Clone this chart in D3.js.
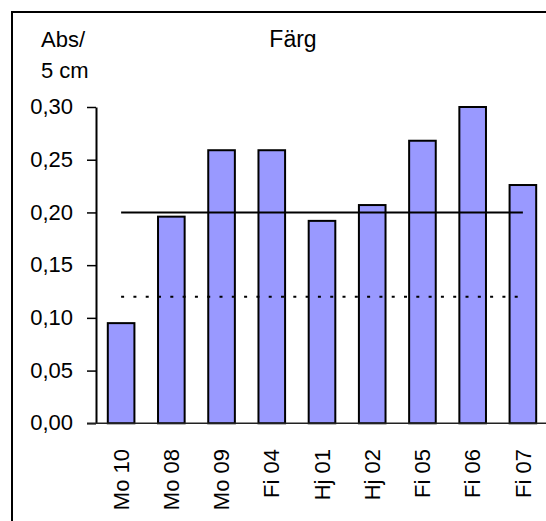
<!DOCTYPE html>
<html>
<head>
<meta charset="utf-8">
<script src="https://cdn.jsdelivr.net/npm/d3@7"></script>
<style>
  body { margin: 0; background: #fff; }
  text { font-family: Arial, "Liberation Sans", sans-serif; fill: #000; }
</style>
</head>
<body>
<svg width="546" height="521"></svg>
<script>
// data
const categories = ["Mo 10", "Mo 08", "Mo 09", "Fi 04", "Hj 01", "Hj 02", "Fi 05", "Fi 06", "Fi 07"];
const values = [0.095, 0.196, 0.259, 0.259, 0.192, 0.207, 0.268, 0.300, 0.226];
const solidLevel = 0.20;
const dashedLevel = 0.12;
const yTicks = [0, 0.05, 0.10, 0.15, 0.20, 0.25, 0.30];

const svg = d3.select("svg");

// outer frame (cut off at right and bottom like the original)
svg.append("rect")
  .attr("x", 12).attr("y", 12)
  .attr("width", 560).attr("height", 540)
  .attr("fill", "none").attr("stroke", "#000").attr("stroke-width", 2);

const x = d3.scaleBand()
  .domain(categories)
  .range([96, 548])
  .paddingInner(0.47)
  .paddingOuter(0.235);

const y = d3.scaleLinear()
  .domain([0, 0.30])
  .range([423.3, 107]);

// swedish decimal comma
const sv = d3.formatLocale({ decimal: ",", thousands: " ", grouping: [3], currency: ["", " kr"] });
const fmt = sv.format(".2f");

// y axis
const yAxis = svg.append("g")
  .attr("transform", "translate(96,0)")
  .call(d3.axisLeft(y).tickValues(yTicks).tickFormat(fmt).tickSize(9).tickSizeOuter(0).tickPadding(14));
yAxis.select(".domain").attr("stroke", "#000").attr("stroke-width", 2);
yAxis.selectAll(".tick line").attr("stroke", "#000").attr("stroke-width", 1.5);
yAxis.selectAll(".tick text")
  .attr("font-size", 22)
  .attr("font-family", "Arial, 'Liberation Sans', sans-serif")
  .attr("dy", "0.3em");

// bars
svg.append("g").selectAll("rect")
  .data(values)
  .join("rect")
  .attr("x", (d, i) => x(categories[i]))
  .attr("y", d => y(d))
  .attr("width", x.bandwidth())
  .attr("height", d => y(0) - y(d))
  .attr("fill", "#9999ff")
  .attr("stroke", "#000")
  .attr("stroke-width", 2);

// x axis line
svg.append("line")
  .attr("x1", x.range()[0] - 9).attr("x2", x.range()[1])
  .attr("y1", y(0)).attr("y2", y(0))
  .attr("stroke", "#222").attr("stroke-width", 1.5);

// reference lines
const first = x(categories[0]) + x.bandwidth() / 2;
const last = x(categories[categories.length - 1]) + x.bandwidth() / 2;
svg.append("line")
  .attr("x1", first).attr("x2", last)
  .attr("y1", y(solidLevel)).attr("y2", y(solidLevel))
  .attr("stroke", "#000").attr("stroke-width", 2);
svg.append("line")
  .attr("x1", first).attr("x2", last)
  .attr("y1", y(dashedLevel)).attr("y2", y(dashedLevel))
  .attr("stroke", "#000").attr("stroke-width", 2)
  .attr("stroke-dasharray", "3,9.3");

// category labels, rotated
svg.append("g").selectAll("text")
  .data(categories)
  .join("text")
  .attr("transform", d => `translate(${x(d) + x.bandwidth() / 2},449) rotate(-90)`)
  .attr("text-anchor", "end")
  .attr("dy", "0.35em")
  .attr("font-size", 22)
  .text(d => d);

// titles
svg.append("text").attr("x", 41).attr("y", 47).attr("font-size", 22).text("Abs/");
svg.append("text").attr("x", 41).attr("y", 78).attr("font-size", 22).text("5 cm");
svg.append("text").attr("x", 293).attr("y", 47).attr("text-anchor", "middle").attr("font-size", 23).text("Färg");
</script>
</body>
</html>
